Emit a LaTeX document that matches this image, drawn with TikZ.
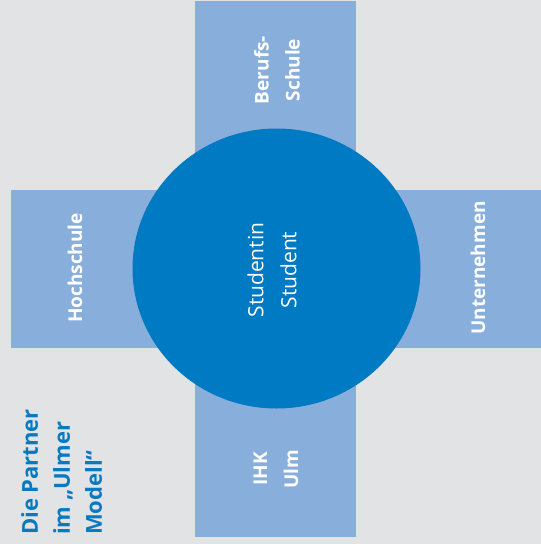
\documentclass[tikz,border=0pt]{standalone}
\usepackage{fontspec}
\setmainfont{Open Sans}
\definecolor{bgc}{HTML}{E2E3E5}
\definecolor{lightblue}{HTML}{88AFDC}
\definecolor{darkblue}{HTML}{007AC2}
\definecolor{titleblue}{HTML}{0A7AC0}
\tikzset{
  arm/.style={fill=lightblue, draw=none},
  armlabel/.style={text=white, font=\fontsize{19}{31}\selectfont\bfseries, rotate=90, align=center, inner sep=0pt},
}
\begin{document}
\begin{tikzpicture}[x=1pt,y=-1pt]
\path[fill=bgc, use as bounding box] (0,0) rectangle (541,544);
\path[arm] (195,1) rectangle (356,300);
\path[arm] (195,240) rectangle (356,537);
\path[arm] (11,190) rectangle (300,348);
\path[arm] (250,190) rectangle (541,348);
\path[fill=darkblue] (276.5,268.5) ellipse [x radius=144, y radius=140];
\node[armlabel] (beruf) at (277,70) {Berufs-\\Schule};
\node[armlabel] (ihk) at (276,469) {IHK\\Ulm};
\node[armlabel] (hoch) at (75,268) {Hochschule};
\node[armlabel] (unter) at (478,268) {Unternehmen};
\node[text=white, font=\fontsize{21}{33}\selectfont, rotate=90, align=center, inner sep=0pt] (stud) at (272,270) {Studentin\\Student};
\node[text=titleblue, font=\fontsize{22}{32}\selectfont\bfseries, rotate=90, align=left, anchor=west, inner sep=0pt] (title) at (61.5,535) {Die Partner\\im „Ulmer\\Modell“};
\end{tikzpicture}
\end{document}
